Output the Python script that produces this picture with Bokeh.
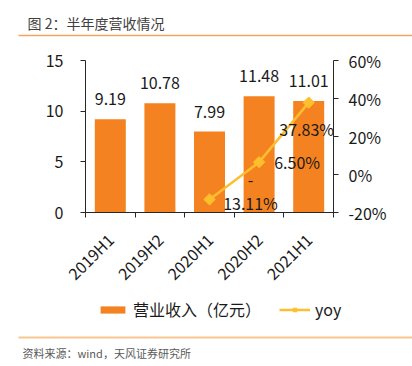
import math
from bokeh.plotting import figure
from bokeh.layouts import column
from bokeh.models import (Range1d, LinearAxis, FixedTicker, ColumnDataSource,
                          Legend, LegendItem)
from bokeh.embed import file_html
from bokeh.resources import INLINE
from bokeh.core.properties import value

# ---------------- data ----------------
categories = ["2019H1", "2019H2", "2020H1", "2020H2", "2021H1"]
revenue = [9.19, 10.78, 7.99, 11.48, 11.01]
yoy = [None, None, -13.11, 6.50, 37.83]
yoy_labels = ["", "", "-\n13.11%", "6.50%", "37.83%"]
left_ticks = [0, 5, 10, 15]
right_ticks = [-20, 0, 20, 40, 60]
right_tick_labels = ["-20%", "0%", "20%", "40%", "60%"]
title_text = "图 2：半年度营收情况"
source_text = "资料来源：wind，天风证券研究所"
bar_name = "营业收入（亿元）"
line_name = "yoy"

# ---------------- style ----------------
FONT = "Noto Sans CJK SC"
BAR = "#F58220"
LINE = "#FDBF2D"
AXIS = "#262626"
TXT = "#1a1a1a"
yoy_dx = [41, 38, -2]
yoy_dy = [-8, 0, 26]

W = 412
H_TOP, H_MAIN, H_BOT = 38, 259, 69
FL, FR, FT, FB = 85, 333, 22, 174   # frame box inside main figure


def deco_figure(h):
    f = figure(width=W, height=h, output_backend="svg", toolbar_location=None,
               x_range=Range1d(0, W), y_range=Range1d(h, 0),
               x_axis_location=None, y_axis_location=None,
               min_border=0, min_border_left=0, min_border_right=0,
               min_border_top=0, min_border_bottom=0, frame_align=False)
    f.grid.visible = False
    f.outline_line_color = None
    f.background_fill_color = "white"
    f.border_fill_color = "white"
    return f


# ---------------- header ----------------
top = deco_figure(H_TOP)
top.text(x=[27], y=[22], text=[title_text], text_font=value(FONT),
         text_font_size="14px", text_color="#404040",
         text_align="left", text_baseline="middle")
top.segment(x0=[18], y0=[35], x1=[W], y1=[35], line_color="#F6A35E",
            line_width=1.5)

# ---------------- main chart ----------------
n = len(categories)
centers = [i + 0.5 for i in range(n)]

p = figure(width=W, height=H_MAIN, output_backend="svg", toolbar_location=None,
           x_range=Range1d(0, n), y_range=Range1d(0, 15),
           min_border_left=FL, min_border_right=W - FR,
           min_border_top=FT, min_border_bottom=H_MAIN - FB,
           frame_align=False)
p.extra_y_ranges = {"yoy": Range1d(-20, 60)}
p.xgrid.visible = False
p.ygrid.visible = False
p.outline_line_color = None
p.background_fill_color = "white"
p.border_fill_color = "white"

xa = p.below[0]
xa.ticker = FixedTicker(ticks=centers, minor_ticks=list(range(n + 1)))
xa.major_label_overrides = {c: lab for c, lab in zip(centers, categories)}
xa.major_tick_out = 0
xa.major_tick_in = 0
xa.minor_tick_out = 5
xa.minor_tick_in = 0
xa.minor_tick_line_color = AXIS
xa.axis_line_color = AXIS
xa.major_label_orientation = math.pi / 4
xa.major_label_text_font = FONT
xa.major_label_text_font_size = "16px"
xa.major_label_text_color = TXT
xa.major_label_standoff = 19

ya = p.left[0]
ya.ticker = FixedTicker(ticks=left_ticks, minor_ticks=[])
ya.major_tick_out = 5
ya.major_tick_in = 0
ya.major_tick_line_color = AXIS
ya.axis_line_color = AXIS
ya.major_label_text_font = FONT
ya.major_label_text_font_size = "16px"
ya.major_label_text_color = TXT
ya.major_label_standoff = 17

ra = LinearAxis(y_range_name="yoy",
                ticker=FixedTicker(ticks=right_ticks, minor_ticks=[]),
                major_label_overrides={t: l for t, l in zip(right_ticks, right_tick_labels)})
ra.major_tick_out = 5
ra.major_tick_in = 0
ra.minor_tick_out = 0
ra.major_tick_line_color = AXIS
ra.axis_line_color = AXIS
ra.major_label_text_font = FONT
ra.major_label_text_font_size = "16px"
ra.major_label_text_color = TXT
ra.major_label_standoff = 10
p.add_layout(ra, "right")

bsrc = ColumnDataSource(dict(x=centers, top=revenue,
                             label=[f"{v:.2f}" for v in revenue]))
p.vbar(x="x", top="top", width=0.625, source=bsrc,
       fill_color=BAR, line_color=None)
p.text(x="x", y="top", text="label", source=bsrc, text_align="center",
       text_baseline="middle", y_offset=-20, text_font=value(FONT),
       text_font_size="16px", text_color=TXT)

idx = [i for i, v in enumerate(yoy) if v is not None]
lsrc = ColumnDataSource(dict(x=[centers[i] for i in idx],
                             y=[yoy[i] for i in idx],
                             label=[yoy_labels[i] for i in idx],
                             dx=yoy_dx, dy=yoy_dy))
p.line(x="x", y="y", source=lsrc, y_range_name="yoy",
       line_color=LINE, line_width=2.5)
p.scatter(x="x", y="y", source=lsrc, y_range_name="yoy",
          marker="square", angle=math.pi / 4, size=8,
          fill_color=LINE, line_color=LINE)
p.text(x="x", y="y", text="label", source=lsrc, y_range_name="yoy",
       x_offset="dx", y_offset="dy", text_align="center",
       text_baseline="middle", text_line_height=1.0,
       text_font=value(FONT), text_font_size="16px", text_color=TXT)

# ---------------- footer: legend, separator, source ----------------
bot = deco_figure(H_BOT)
# legend proxies: same data/styles, mapped to an off-screen range
bot.extra_x_ranges = {"off": Range1d(1000, 2000)}
bot.extra_y_ranges = {"off": Range1d(1000, 2000)}
lg_bar = bot.vbar(x="x", top="top", width=0.625, source=bsrc,
                  x_range_name="off", y_range_name="off",
                  fill_color=BAR, line_color=None)
lg_line = bot.line(x="x", y="y", source=lsrc, x_range_name="off",
                   y_range_name="off", line_color=LINE, line_width=2.5)
lg_pt = bot.scatter(x="x", y="y", source=lsrc, x_range_name="off",
                    y_range_name="off", marker="square", angle=math.pi / 4,
                    size=8, fill_color=LINE, line_color=LINE)
legend = Legend(items=[LegendItem(label=bar_name, renderers=[lg_bar]),
                       LegendItem(label=line_name, renderers=[lg_line, lg_pt])],
                orientation="horizontal", location=(97, 45),
                glyph_width=31, glyph_height=9, label_standoff=5, spacing=18,
                padding=0, margin=0, border_line_color=None,
                background_fill_alpha=0,
                label_text_font=FONT, label_text_font_size="16px",
                label_text_color=TXT)
bot.add_layout(legend, "center")
bot.segment(x0=[18], y0=[40], x1=[W], y1=[40], line_color="#FAC690",
            line_width=2)
bot.text(x=[22], y=[55], text=[source_text], text_font=value(FONT),
         text_font_size="11px", text_color="#595959",
         text_align="left", text_baseline="middle")

layout = column(top, p, bot, spacing=0)
open("out.html", "w").write(file_html(layout, INLINE))
